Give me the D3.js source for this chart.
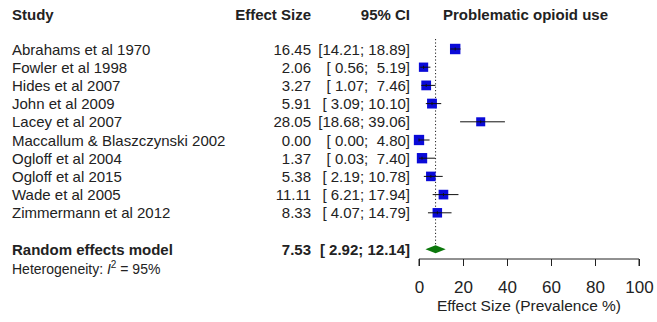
<!DOCTYPE html>
<meta charset="utf-8">
<title>Problematic opioid use - forest plot</title>
<script src="https://d3js.org/d3.v7.min.js"></script>
<style>
  body { margin: 0; background: #fff; }
  svg text { font-family: "Liberation Sans", Arial, sans-serif; white-space: pre; fill: #222; }
</style>
<body>
<svg id="chart" width="657" height="322"></svg>
<script>

// study rows, top to bottom
var studies = [
  "Abrahams et al 1970",
  "Fowler et al 1998",
  "Hides et al 2007",
  "John et al 2009",
  "Lacey et al 2007",
  "Maccallum & Blaszczynski 2002",
  "Ogloff et al 2004",
  "Ogloff et al 2015",
  "Wade et al 2005",
  "Zimmermann et al 2012"
];
var effect = [16.45, 2.06, 3.27, 5.91, 28.05, 0.00, 1.37, 5.38, 11.11, 8.33];
var lower  = [14.21, 0.56, 1.07, 3.09, 18.68, 0.00, 0.03, 2.19, 6.21, 4.07];
var upper  = [18.89, 5.19, 7.46, 10.10, 39.06, 4.80, 7.40, 10.78, 17.94, 14.79];
// random-effects weights (%), used only for square size
var weight = [11.2, 8.9, 9.8, 10.0, 8.4, 10.9, 11.0, 9.4, 9.6, 9.3];

var pooled = [7.53, 2.92, 12.14];   // estimate, lower, upper
var i2 = "95%";
var xTicks = [0, 20, 40, 60, 80, 100];

var svg = d3.select("#chart");

var x = d3.scaleLinear().domain([0, 100]).range([419, 639]);
var y = d3.scaleLinear().domain([0, 1]).range([49, 67.2]);   // row index -> centre
var side = d3.scaleSqrt().domain([0, 12]).range([0, 10.8]);

var fmt = d3.format(".2f");
function pad(v) { var s = fmt(v); return s.length < 5 ? " " + s : s; }
function ci(l, u) { return "[" + pad(l) + "; " + pad(u) + "]"; }

var colStudy = 12, colEffect = 311, colCI = 410, fs = 15;

// header
var head = svg.append("g").attr("font-weight", "bold").attr("font-size", fs);
head.append("text").attr("x", colStudy).attr("y", 20).text("Study");
head.append("text").attr("x", colEffect).attr("y", 20).attr("text-anchor", "end").text("Effect Size");
head.append("text").attr("x", colCI).attr("y", 20).attr("text-anchor", "end").text("95% CI");
head.append("text").attr("x", 443).attr("y", 20).text("Problematic opioid use");

// reference line at the pooled estimate
svg.append("line")
    .attr("x1", x(pooled[0])).attr("x2", x(pooled[0]))
    .attr("y1", y(0) - 10).attr("y2", y(11) - 4)
    .attr("stroke", "#222").attr("stroke-width", 1)
    .attr("stroke-dasharray", "1.2,2.2");

var rows = svg.append("g").selectAll("g")
  .data(studies)
  .join("g")
    .attr("transform", function(d, i) { return "translate(0," + y(i) + ")"; });

rows.append("text").attr("x", colStudy).attr("y", 5.5).attr("font-size", fs)
    .text(function(d) { return d; });
rows.append("text").attr("x", colEffect).attr("y", 5.5).attr("font-size", fs)
    .attr("text-anchor", "end")
    .text(function(d, i) { return fmt(effect[i]); });
rows.append("text").attr("x", colCI).attr("y", 5.5).attr("font-size", fs)
    .attr("text-anchor", "end")
    .text(function(d, i) { return ci(lower[i], upper[i]); });

rows.append("rect")
    .attr("x", function(d, i) { return x(effect[i]) - side(weight[i]) / 2; })
    .attr("y", function(d, i) { return -side(weight[i]) / 2; })
    .attr("width", function(d, i) { return side(weight[i]); })
    .attr("height", function(d, i) { return side(weight[i]); })
    .attr("fill", "#0a0ad8");

rows.append("line")
    .attr("x1", function(d, i) { return x(lower[i]); })
    .attr("x2", function(d, i) { return x(upper[i]); })
    .attr("stroke", "#111").attr("stroke-width", 1);

rows.append("line")
    .attr("x1", function(d, i) { return x(effect[i]); })
    .attr("x2", function(d, i) { return x(effect[i]); })
    .attr("y1", -1.5).attr("y2", 1.5)
    .attr("stroke", "#111").attr("stroke-width", 1);

// pooled row
var ry = y(11);
var pool = svg.append("g").attr("font-weight", "bold").attr("font-size", fs);
pool.append("text").attr("x", colStudy).attr("y", ry + 6).text("Random effects model");
pool.append("text").attr("x", colEffect).attr("y", ry + 6).attr("text-anchor", "end").text(fmt(pooled[0]));
pool.append("text").attr("x", colCI).attr("y", ry + 6).attr("text-anchor", "end").text(ci(pooled[1], pooled[2]));

svg.append("path")
    .attr("d", "M" + x(pooled[1]) + "," + ry +
               "L" + x(pooled[0]) + "," + (ry - 4) +
               "L" + x(pooled[2]) + "," + ry +
               "L" + x(pooled[0]) + "," + (ry + 4) + "Z")
    .attr("fill", "#0c780c");

var het = svg.append("text").attr("x", colStudy).attr("y", ry + 25).attr("font-size", 14);
het.append("tspan").text("Heterogeneity: ");
het.append("tspan").attr("font-style", "italic").text("I");
het.append("tspan").attr("font-size", 10).attr("dy", -6).text("2");
het.append("tspan").attr("dy", 6).text(" = " + i2);

// x axis
var axis = svg.append("g")
    .attr("transform", "translate(0,259)")
    .call(d3.axisBottom(x).tickValues(xTicks).tickSize(7));
axis.select(".domain").attr("stroke", "#222").attr("d", "M" + x(0) + ",7V0H" + x(100) + "V7");
axis.selectAll(".tick line").attr("stroke", "#222");
axis.selectAll(".tick text").attr("font-size", 17).attr("fill", "#222")
    .attr("y", 34).attr("dy", 0)
    .attr("font-family", "Liberation Sans, Arial, sans-serif");

svg.append("text")
    .attr("x", x(50)).attr("y", 310.5)
    .attr("text-anchor", "middle").attr("font-size", 15.5)
    .text("Effect Size (Prevalence %)");

</script>
